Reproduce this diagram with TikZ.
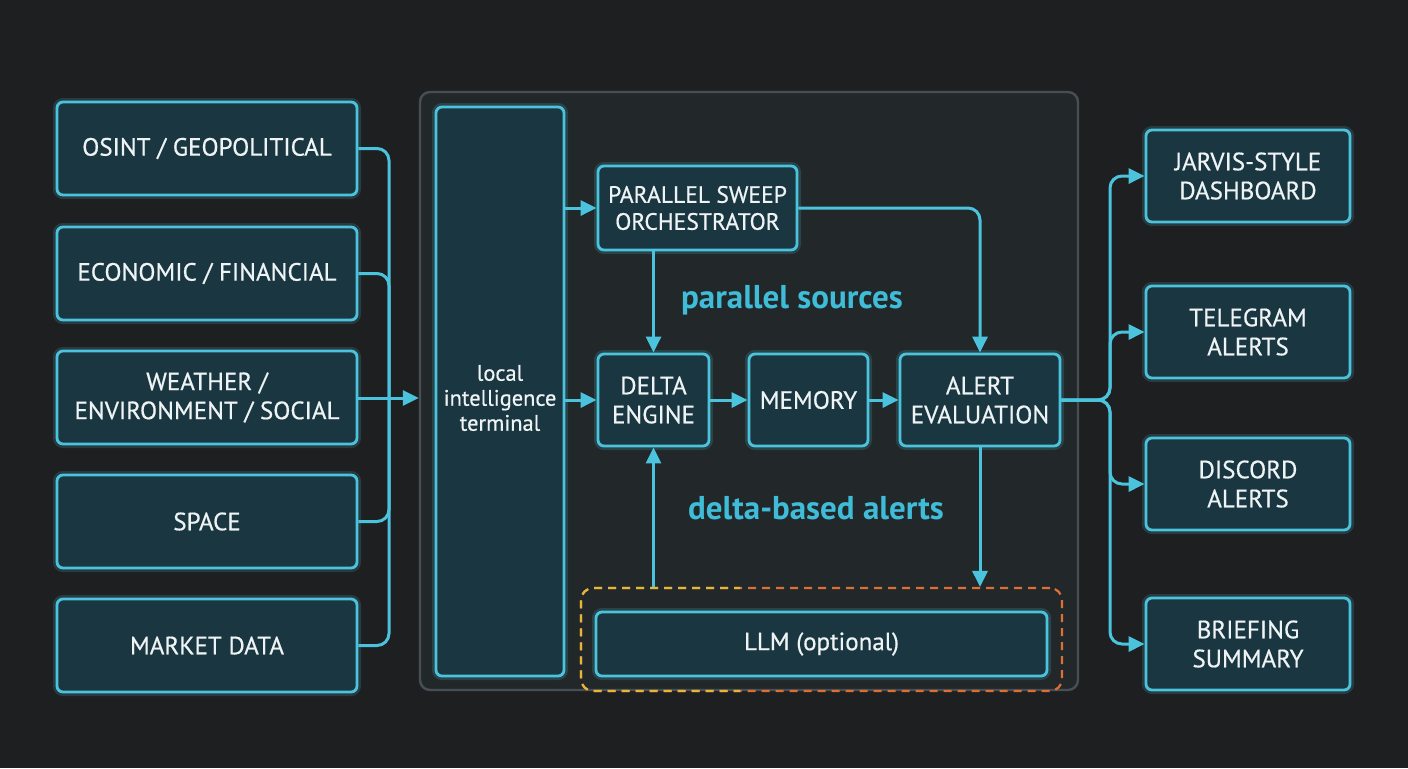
\documentclass[tikz,border=0pt]{standalone}
\usepackage{fontspec}
\setmainfont{PT Sans}
\newfontfamily\boxfont{PT Sans}[FakeBold=0.6]
\usetikzlibrary{arrows.meta,calc}
\definecolor{bg}{HTML}{1E1F21}
\definecolor{cont}{HTML}{22272A}
\definecolor{contline}{HTML}{474F55}
\definecolor{boxfill}{HTML}{1A3640}
\definecolor{cyanl}{HTML}{4CC3DC}
\definecolor{lbl}{HTML}{3FBCD8}
\definecolor{txt}{HTML}{EEF3F5}
\definecolor{dashy}{HTML}{E0B83A}
\definecolor{dasho}{HTML}{DD6E35}
\tikzset{
  box/.style={draw=cyanl, line width=1.4pt, fill=boxfill, rounded corners=3pt,
    text=txt, align=center, inner sep=2pt, font=\boxfont\fontsize{12.5}{14.5}\selectfont,
    preaction={draw=cyanl, line width=4pt, opacity=0.18}},
  line/.style={draw=cyanl, line width=1.5pt, rounded corners=6pt},
  arr/.style={line, -{Triangle[length=8pt,width=7.5pt]}},
  lab/.style={text=lbl, font=\bfseries\fontsize{16.5}{18}\selectfont}
}
\begin{document}
\begin{tikzpicture}[x=0.5pt,y=-0.5pt]
\fill[bg] (0,0) rectangle (1408,768);
\useasboundingbox (0,0) rectangle (1408,768);
% container
\node[draw=contline, fill=cont, line width=1.2pt, rounded corners=5pt,
  minimum width=329pt, minimum height=299pt, inner sep=0pt] (cont) at (749,391) {};
% left sources
\node[box, minimum width=150pt, minimum height=46.5pt] (osint) at (207,148.5) {OSINT / GEOPOLITICAL};
\node[box, minimum width=150pt, minimum height=46.5pt] (econ) at (207,273.5) {ECONOMIC / FINANCIAL};
\node[box, minimum width=150pt, minimum height=46.5pt] (weather) at (207,397.5) {WEATHER /\\ENVIRONMENT / SOCIAL};
\node[box, minimum width=150pt, minimum height=46.5pt] (space) at (207,521.5) {SPACE};
\node[box, minimum width=150pt, minimum height=46.5pt] (market) at (207,645.5) {MARKET DATA};
% inner
\node[box, minimum width=64pt, minimum height=284.5pt] (term) at (500,391.5) {};
\node[text=txt, align=center, font=\boxfont\fontsize{11.2}{12.5}\selectfont] (termtxt) at (500,398) {local\\intelligence\\terminal};
\node[box, minimum width=99.5pt, minimum height=42pt, font=\boxfont\fontsize{11.8}{13.5}\selectfont] (pso) at (697.5,208) {PARALLEL SWEEP\\ORCHESTRATOR};
\node[box, minimum width=55.5pt, minimum height=46pt] (delta) at (653.5,400) {DELTA\\ENGINE};
\node[box, minimum width=59.5pt, minimum height=46pt] (memory) at (808.5,400) {MEMORY};
\node[box, minimum width=80pt, minimum height=46pt] (alert) at (980,400) {ALERT\\EVALUATION};
\node[draw=dasho, dashed, dash pattern=on 4pt off 3pt, line width=1.1pt, rounded corners=6pt,
  minimum width=240.5pt, minimum height=51.5pt, inner sep=0pt] (opt) at (821.5,639.5) {};
\begin{scope}
\clip (560,560) rectangle (740,700);
\node[draw=dashy, dashed, dash pattern=on 4pt off 3pt, line width=1.1pt, rounded corners=6pt,
  minimum width=240.5pt, minimum height=51.5pt, inner sep=0pt] at (821.5,639.5) {};
\end{scope}
\node[box, minimum width=225.5pt, minimum height=32pt] (llm) at (821.5,644) {LLM (optional)};
% right outputs
\node[box, minimum width=102pt, minimum height=46pt] (jarvis) at (1248,176) {JARVIS-STYLE\\DASHBOARD};
\node[box, minimum width=102pt, minimum height=46pt] (tele) at (1248,332) {TELEGRAM\\ALERTS};
\node[box, minimum width=102pt, minimum height=46pt] (disc) at (1248,484) {DISCORD\\ALERTS};
\node[box, minimum width=102pt, minimum height=46pt] (brief) at (1248,644) {BRIEFING\\SUMMARY};
% labels
\node[lab] (ps) at (792,300) {parallel sources};
\node[lab] (dba) at (816,508) {delta-based alerts};
% connectors left
\coordinate (bus) at (389,398);
\draw[line] (osint.east) -| (bus);
\draw[line] (econ.east) -| (bus);
\draw[line] (space.east) -| (bus);
\draw[line] (market.east) -| (bus);
\draw[arr] (weather.east |- bus) -- (cont.west |- bus);
% inner connectors
\draw[arr] (term.east |- pso.west) -- (pso.west);
\draw[arr] (term.east |- delta.west) -- (delta.west);
\draw[arr] (pso.south -| delta.north) -- (delta.north);
\draw[arr] (pso.east) -| (alert.north);
\draw[arr] (delta.east) -- (memory.west);
\draw[arr] (memory.east) -- (alert.west);
\draw[arr] (opt.north -| delta.south) -- (delta.south);
\draw[arr] (alert.south) -- (alert.south |- opt.north);
% outputs
\coordinate (obus) at (1110,400);
\draw[arr] (alert.east) -- (obus) |- (jarvis.west);
\draw[arr] (alert.east) -- (obus) |- (tele.west);
\draw[arr] (alert.east) -- (obus) |- (disc.west);
\draw[arr] (alert.east) -- (obus) |- (brief.west);
\end{tikzpicture}
\end{document}
